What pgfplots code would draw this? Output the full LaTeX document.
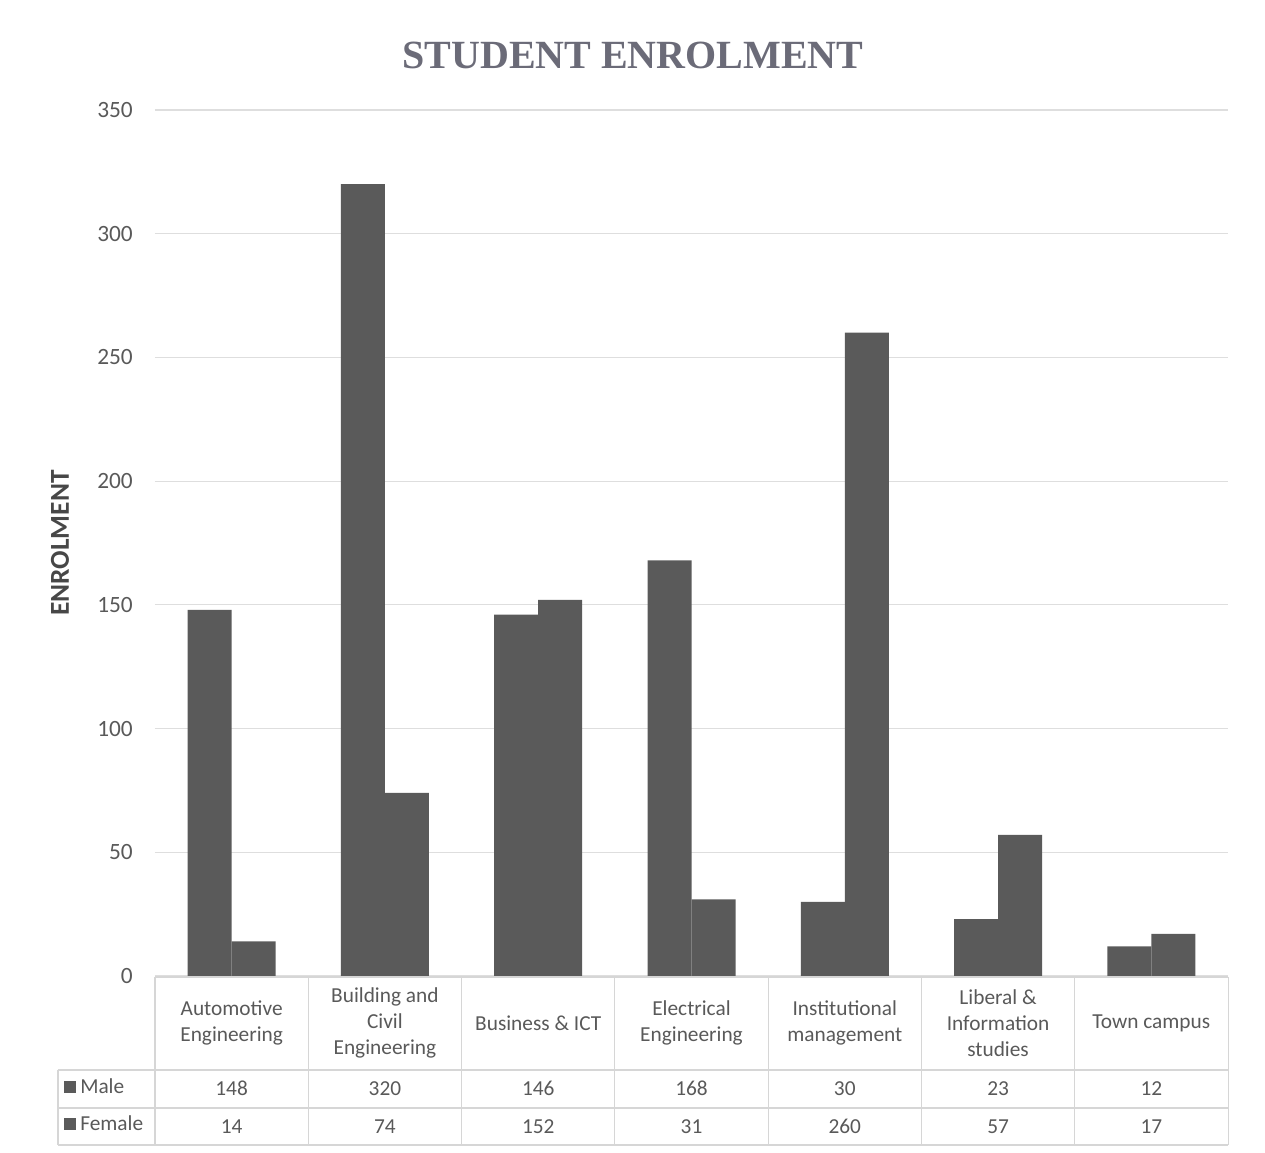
\documentclass[border=0pt]{standalone}
\usepackage{pgfplots}
\usepackage{pgfplotstable}
\pgfplotsset{compat=1.18}
\usepackage{fontspec}
\setmainfont{Carlito}
\newfontfamily\titlefont{Liberation Serif}

\definecolor{barc}{HTML}{5A5A5A}
\definecolor{gridc}{HTML}{DEDEDE}
\definecolor{linec}{HTML}{D6D6D6}
\definecolor{txtc}{HTML}{595959}
\definecolor{titlec}{HTML}{6B6B78}

% Enrolment per department
\pgfplotstableread{
idx male female
0   148  14
1   320  74
2   146  152
3   168  31
4   30   260
5   23   57
6   12   17
}\enrol

\begin{document}
\begin{tikzpicture}
\begin{axis}[
  name=ax, at={(0,0)}, anchor=south west,
  scale only axis, width=804.75pt, height=649.5pt,
  ybar=0pt, bar width=33pt,
  xmin=-0.5, xmax=6.5, ymin=0, ymax=350,
  ytick={0,50,...,350},
  xtick={0,...,6},
  xticklabels={{Automotive\\Engineering},{Building and\\Civil\\Engineering},{Business \& ICT},{Electrical\\Engineering},{Institutional\\management},{Liberal \&\\Information\\studies},{Town campus}},
  axis line style={draw=none},
  major tick length=0pt,
  ymajorgrids, major grid style={draw=gridc, line width=0.8pt},
  /pgf/number format/assume math mode=true,
  yticklabel style={font=\fontsize{17.5}{20}\selectfont, text=txtc, inner sep=0pt, xshift=-16.5pt},
  xticklabel style={font=\fontsize{16}{19.3}\selectfont, text=txtc, align=center, anchor=center, yshift=-35.25pt},
]
\addplot[fill=barc, draw=none] table[x=idx, y=male]{\enrol};
\addplot[fill=barc, draw=none] table[x=idx, y=female]{\enrol};
\end{axis}

% title, axis label and data table, laid out in pixel units
\begin{scope}[x=0.75pt, y=-0.75pt, shift={(-155,-976)}]
  \node[font=\titlefont\bfseries\fontsize{30}{36}\selectfont, text=titlec] at (633,55) {STUDENT ENROLMENT};
  \node[font=\bfseries\fontsize{20.5}{24}\selectfont, text=txtc!80!black, rotate=90] at (60,543) {ENROLMENT};

  % table grid
  \draw[linec, line width=0.8pt] (155,977) -- (1228,977);
  \draw[linec, line width=0.8pt] (58,1070) -- (1228,1070);
  \draw[linec, line width=0.8pt] (58,1108) -- (1228,1108);
  \draw[linec, line width=0.8pt] (58,1145) -- (1228,1145);
  \draw[linec, line width=0.8pt] (58,1070) -- (58,1145);
  \foreach \k in {0,...,7}
    \draw[linec, line width=0.8pt] ({155+153.29*\k},977) -- ({155+153.29*\k},1145);

  % legend keys
  \fill[barc] (64,1081) rectangle (76,1093);
  \node[anchor=base west, font=\fontsize{16}{19}\selectfont, text=txtc, inner sep=0pt] at (80,1094) {Male};
  \fill[barc] (64,1118) rectangle (76,1130);
  \node[anchor=base west, font=\fontsize{16}{19}\selectfont, text=txtc, inner sep=0pt] at (80,1131) {Female};

  % table values
  \foreach \i in {0,...,6}{
    \pgfplotstablegetelem{\i}{male}\of\enrol
    \node[anchor=base, inner sep=0pt, font=\fontsize{16}{19}\selectfont, text=txtc] at ({155+153.29*(\i+0.5)},1096) {\pgfplotsretval};
    \pgfplotstablegetelem{\i}{female}\of\enrol
    \node[anchor=base, inner sep=0pt, font=\fontsize{16}{19}\selectfont, text=txtc] at ({155+153.29*(\i+0.5)},1134) {\pgfplotsretval};
  }

  \pgfresetboundingbox
  \path[use as bounding box] (0,0) rectangle (1265,1153);
\end{scope}
\end{tikzpicture}
\end{document}
